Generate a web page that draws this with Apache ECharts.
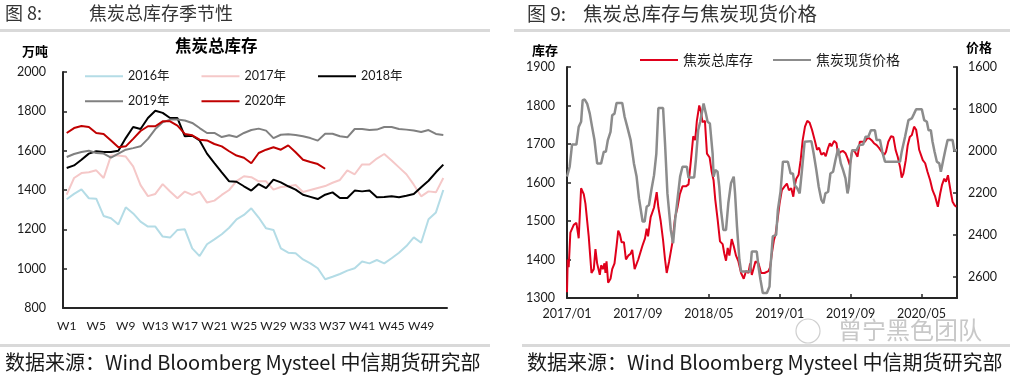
<!DOCTYPE html>
<html><head><meta charset="utf-8">
<script src="https://cdn.jsdelivr.net/npm/echarts@6/dist/echarts.min.js"></script>
<style>html,body{margin:0;padding:0;background:#fff}#c{width:1018px;height:381px}</style>
</head><body><div id="c"></div>
<script>
// ---------- Left chart: seasonal coke inventory (万吨), weeks W1..W52 ----------
const weeks = Array.from({length: 52}, (_, i) => 'W' + (i + 1));
const y2016 = [1353,1380,1403,1358,1356,1268,1256,1225,1312,1281,1239,1214,1214,1163,1158,1197,1200,1103,1064,1124,1149,1175,1208,1251,1273,1307,1260,1205,1197,1103,1081,1078,1047,1027,1002,946,959,973,990,1002,1036,1027,1044,1027,1053,1081,1115,1159,1132,1251,1286,1400];
const y2017 = [1376,1461,1486,1490,1500,1461,1575,1575,1570,1520,1425,1369,1380,1430,1392,1358,1392,1375,1392,1336,1346,1375,1400,1445,1470,1465,1444,1444,1402,1415,1419,1425,1390,1400,1410,1420,1437,1451,1500,1480,1530,1530,1560,1583,1550,1515,1480,1427,1368,1393,1388,1461];
const y2018 = [1512,1525,1554,1585,1597,1593,1593,1600,1664,1720,1710,1766,1803,1792,1766,1766,1673,1676,1652,1585,1537,1490,1444,1442,1419,1397,1430,1410,1453,1439,1419,1402,1376,1365,1354,1376,1388,1359,1359,1397,1393,1397,1363,1364,1368,1363,1371,1380,1414,1447,1490,1529];
const y2019 = [1568,1583,1593,1600,1588,1585,1565,1585,1605,1613,1622,1660,1710,1744,1758,1758,1753,1741,1715,1690,1690,1669,1678,1669,1690,1705,1712,1702,1664,1681,1683,1680,1673,1664,1651,1686,1686,1673,1668,1710,1710,1705,1707,1720,1720,1710,1707,1702,1695,1705,1685,1680];
const y2020 = [1690,1715,1725,1720,1690,1685,1652,1617,1622,1660,1700,1724,1724,1749,1749,1727,1685,1678,1656,1652,1634,1622,1597,1575,1564,1536,1588,1605,1617,1605,1627,1592,1554,1542,1532,1508];
const leftTicks = [800, 1000, 1200, 1400, 1600, 1800, 2000];

// ---------- Right chart: inventory vs coke spot price ----------
// time given as months elapsed since 2017/01
const invMonth = [0.00,0.08,0.19,0.38,0.76,1.06,1.32,1.59,1.89,2.08,2.45,2.76,3.02,3.21,3.40,3.70,3.85,4.04,4.23,4.34,4.46,4.64,4.91,5.10,5.36,5.59,5.78,5.97,6.16,6.42,6.65,6.91,7.18,7.36,7.63,7.85,8.04,8.23,8.50,8.80,8.99,9.14,9.44,9.63,9.82,10.12,10.31,10.57,10.84,11.06,11.25,11.52,11.71,11.90,12.20,12.46,12.73,13.03,13.41,13.71,13.97,14.24,14.46,14.65,14.92,15.11,15.29,15.56,15.79,16.09,16.31,16.54,16.73,16.99,17.26,17.56,17.75,17.94,18.13,18.32,18.58,18.81,19.07,19.34,19.64,19.94,20.20,20.47,20.66,20.85,21.07,21.26,21.60,21.90,22.28,22.47,22.73,22.92,23.11,23.34,23.53,23.79,23.98,24.24,24.55,24.81,25.04,25.30,25.53,25.68,25.87,26.13,26.36,26.59,26.85,27.11,27.38,27.64,27.95,28.21,28.44,28.70,28.97,29.19,29.46,29.65,29.83,30.14,30.40,30.59,30.89,31.15,31.42,31.65,31.91,32.18,32.48,32.78,33.04,33.35,33.61,33.87,34.10,34.36,34.63,34.93,35.20,35.50,35.80,35.99,36.25,36.56,36.82,37.08,37.31,37.57,37.76,37.95,38.22,38.44,38.67,38.90,39.16,39.39,39.58,39.73,39.92,40.14,40.41,40.67,40.97,41.24,41.54,41.84,41.92,42.11,42.30,42.56,42.75,42.98,43.13,43.32,43.50,43.73,43.92];
const invValue = [1315,1400,1380,1470,1490,1495,1455,1585,1570,1545,1460,1365,1375,1427,1390,1360,1385,1375,1390,1365,1395,1340,1350,1375,1390,1435,1475,1465,1445,1445,1400,1410,1415,1425,1375,1370,1400,1395,1435,1455,1480,1460,1510,1510,1535,1575,1535,1500,1450,1400,1365,1395,1390,1445,1510,1535,1570,1590,1590,1595,1655,1720,1710,1760,1800,1785,1757,1760,1675,1665,1630,1605,1555,1505,1447,1440,1415,1397,1430,1410,1453,1435,1410,1395,1365,1350,1370,1365,1390,1360,1355,1395,1390,1365,1365,1360,1370,1380,1415,1450,1465,1510,1545,1580,1590,1597,1580,1585,1563,1590,1610,1620,1658,1710,1745,1760,1755,1737,1710,1685,1690,1672,1677,1668,1690,1702,1694,1708,1702,1672,1680,1682,1676,1663,1645,1684,1680,1667,1706,1706,1706,1715,1715,1710,1702,1697,1690,1680,1672,1680,1706,1720,1718,1684,1667,1641,1613,1623,1658,1697,1718,1723,1745,1737,1710,1685,1685,1658,1650,1628,1606,1580,1563,1537,1533,1572,1593,1610,1602,1619,1598,1572,1550,1541,1537];
const priceMonth = [0.00,0.30,0.57,1.06,1.32,1.59,1.77,2.00,2.27,2.57,2.83,3.10,3.40,3.85,4.15,4.38,4.61,4.91,5.10,5.36,5.59,6.23,6.50,6.80,7.18,7.55,7.85,8.12,8.31,8.53,8.76,8.99,9.25,9.52,9.82,10.08,10.31,10.84,11.06,11.33,11.71,11.97,12.20,12.46,12.76,13.03,13.52,13.71,14.35,14.54,14.80,15.03,15.41,15.67,15.86,16.12,16.43,16.54,16.73,16.99,17.18,17.37,17.64,17.94,18.20,18.50,18.81,18.96,19.18,19.45,19.64,20.66,20.85,21.41,21.60,21.83,22.09,22.55,22.85,22.96,23.22,23.60,23.79,24.09,24.36,24.92,25.23,25.49,25.68,25.98,26.25,26.51,26.81,27.57,27.83,28.13,28.40,28.70,28.93,29.15,29.46,29.72,30.02,30.29,30.59,30.89,31.15,31.42,31.65,31.80,31.99,32.18,32.67,32.97,33.42,33.69,33.99,34.29,34.74,34.93,35.31,35.57,35.88,37.57,37.76,38.14,38.52,38.90,39.16,39.39,40.03,40.30,40.60,40.79,41.05,41.24,41.47,41.73,42.00,42.18,42.41,42.68,42.94,43.50,43.69,44.00];
const priceValue = [2122,2075,1969,1969,1885,1861,1758,1755,1774,1822,1885,1948,2059,2059,2004,2004,1948,1909,1830,1822,1771,1771,1837,1885,1948,2059,2122,2225,2233,2336,2336,2265,2257,2186,2115,2012,1795,1795,1964,2202,2376,2439,2329,2233,2122,2075,2075,2126,2126,2043,1901,1861,1774,1822,1861,1869,2012,2122,2091,2099,2170,2281,2376,2376,2249,2154,2122,2202,2360,2518,2574,2574,2479,2479,2550,2613,2676,2676,2645,2550,2407,2399,2281,2194,2051,2051,2107,2107,2162,2178,2202,2091,1956,1953,2012,2091,2170,2233,2249,2202,2194,2107,2099,2043,1988,2059,2091,2130,2202,2170,2051,1996,1996,1972,1969,1932,1932,1901,1901,1948,1948,2004,2051,2051,2004,1932,1853,1845,1822,1801,1801,1853,1861,1901,1901,1956,2004,2051,2059,2099,2051,1996,1948,1948,1996,1996];

const zip = (a, b) => a.map((v, i) => [v, b[i]]);
const CJK = '"Noto Sans CJK SC", sans-serif';
const LAT = 'Lato, "Noto Sans CJK SC", sans-serif';
const axisCol = '#262626';
const labCol = '#1a1a1a';
const plain = v => String(v);

const chart = echarts.init(document.getElementById('c'), null, {renderer: 'canvas'});
const lineSeries = (name, data, color, w) => ({
  name, type: 'line', data, xAxisIndex: 0, yAxisIndex: 0, symbol: 'none',
  lineStyle: {color, width: w || 2}, itemStyle: {color}, emphasis: {disabled: true}
});
const monthLabel = v => {
  const y = 2017 + Math.floor(v / 12);
  const m = (v % 12) + 1;
  return y + '/' + (m < 10 ? '0' + m : m);
};

chart.setOption({
  animation: false,
  textStyle: {fontFamily: LAT},
  grid: [
    {left: 63, top: 72, width: 384, height: 236},
    {left: 567, top: 67, width: 390, height: 231}
  ],
  legend: [
    {data: ['2016年', '2017年', '2018年'], left: 80, top: 65, icon: 'rect', itemWidth: 38, itemHeight: 2, itemGap: 32,
     textStyle: {fontSize: 12.5, color: labCol, fontFamily: LAT}, selectedMode: false},
    {data: ['2019年', '2020年'], left: 80, top: 90, icon: 'rect', itemWidth: 38, itemHeight: 2, itemGap: 32,
     textStyle: {fontSize: 12.5, color: labCol, fontFamily: LAT}, selectedMode: false},
    {data: ['焦炭总库存', '焦炭现货价格'], left: 635, top: 48, icon: 'rect', itemWidth: 38, itemHeight: 2, itemGap: 20,
     textStyle: {fontSize: 14, color: labCol, fontFamily: CJK}, selectedMode: false}
  ],
  xAxis: [
    {type: 'category', gridIndex: 0, data: weeks, boundaryGap: true,
     axisLine: {lineStyle: {color: axisCol, width: 2}},
     axisTick: {inside: true, length: 4, interval: 0, lineStyle: {color: axisCol, width: 1.5}},
     axisLabel: {interval: 3, color: labCol, fontSize: 12, margin: 12}, splitLine: {show: false}},
    {type: 'value', gridIndex: 1, min: 0, max: 44, interval: 8,
     axisLine: {lineStyle: {color: axisCol, width: 2}},
     axisTick: {inside: true, length: 4, lineStyle: {color: axisCol, width: 1.5}},
     axisLabel: {formatter: monthLabel, showMaxLabel: false, color: labCol, fontSize: 12.5, margin: 10},
     splitLine: {show: false}}
  ],
  yAxis: [
    {type: 'value', gridIndex: 0, min: leftTicks[0], max: leftTicks[leftTicks.length - 1], interval: 200,
     axisLine: {show: true, lineStyle: {color: axisCol, width: 2}},
     axisTick: {show: true, inside: true, length: 4, lineStyle: {color: axisCol, width: 1.5}},
     axisLabel: {formatter: plain, color: labCol, fontSize: 12.5, margin: 17}, splitLine: {show: false}},
    {type: 'value', gridIndex: 1, min: 1300, max: 1900, interval: 100,
     axisLine: {show: true, lineStyle: {color: axisCol, width: 2}},
     axisTick: {show: true, inside: true, length: 4, lineStyle: {color: axisCol, width: 1.5}},
     axisLabel: {formatter: plain, color: labCol, fontSize: 12.5, margin: 12}, splitLine: {show: false}},
    {type: 'value', gridIndex: 1, min: 1600, max: 2700, interval: 200, inverse: true, position: 'right',
     axisLine: {show: true, lineStyle: {color: axisCol, width: 2}},
     axisTick: {show: true, inside: true, length: 4, lineStyle: {color: axisCol, width: 1.5}},
     axisLabel: {formatter: plain, color: labCol, fontSize: 12.5, margin: 11, showMaxLabel: false}, splitLine: {show: false}}
  ],
  series: [
    lineSeries('2016年', y2016, '#b4dce6'),
    lineSeries('2017年', y2017, '#f5c8c8'),
    lineSeries('2018年', y2018, '#000000'),
    lineSeries('2019年', y2019, '#808080'),
    lineSeries('2020年', y2020, '#c00000'),
    {name: '焦炭总库存', type: 'line', xAxisIndex: 1, yAxisIndex: 1, data: zip(invMonth, invValue), symbol: 'none',
     lineStyle: {color: '#e0001b', width: 2}, itemStyle: {color: '#e0001b'}, emphasis: {disabled: true}},
    {name: '焦炭现货价格', type: 'line', xAxisIndex: 1, yAxisIndex: 2, data: zip(priceMonth, priceValue), symbol: 'none',
     lineStyle: {color: '#8c8c8c', width: 2.5}, itemStyle: {color: '#8c8c8c'}, emphasis: {disabled: true}}
  ],
  graphic: [
    // headers
    {type: 'text', left: 5, top: 4, style: {text: '图 8:', fontSize: 18, fill: '#333', fontFamily: CJK}},
    {type: 'text', left: 89, top: 4, style: {text: '焦炭总库存季节性', fontSize: 18, fill: '#333', fontFamily: CJK}},
    {type: 'rect', shape: {x: 0, y: 29, width: 490, height: 3}, style: {fill: '#d9d9d9'}},
    {type: 'text', left: 527, top: 4, style: {text: '图 9:', fontSize: 19, fill: '#333', fontFamily: CJK}},
    {type: 'text', left: 583, top: 4, style: {text: '焦炭总库存与焦炭现货价格', fontSize: 19.5, fill: '#333', fontFamily: CJK}},
    {type: 'rect', shape: {x: 514, y: 29, width: 496, height: 3}, style: {fill: '#d9d9d9'}},
    // axis titles & chart title
    {type: 'text', left: 22, top: 45, style: {text: '万吨', fontSize: 13, fontWeight: 'bold', fill: '#000', fontFamily: CJK}},
    {type: 'text', left: 175, top: 37, style: {text: '焦炭总库存', fontSize: 16.5, fontWeight: 'bold', fill: '#000', fontFamily: CJK}},
    {type: 'text', left: 532, top: 44, style: {text: '库存', fontSize: 13, fontWeight: 'bold', fill: '#000', fontFamily: CJK}},
    {type: 'text', left: 966, top: 41, style: {text: '价格', fontSize: 13, fontWeight: 'bold', fill: '#000', fontFamily: CJK}},
    // watermark
    {type: 'circle', shape: {cx: 808, cy: 331, r: 12}, style: {fill: 'none', stroke: '#cfcfcf', lineWidth: 1.2}},
    {type: 'text', left: 838, top: 318, style: {text: '曾宁黑色团队', fontSize: 24, fill: '#c8c8c8', fontFamily: CJK}},
    // footers
    {type: 'rect', shape: {x: 0, y: 344, width: 490, height: 3}, style: {fill: '#d9d9d9'}},
    {type: 'rect', shape: {x: 522, y: 344, width: 488, height: 3}, style: {fill: '#d9d9d9'}},
    {type: 'text', left: 5, top: 352, style: {text: '数据来源：Wind Bloomberg Mysteel 中信期货研究部', fontSize: 20, fill: '#1a1a1a', fontFamily: CJK}},
    {type: 'text', left: 527, top: 352, style: {text: '数据来源：Wind Bloomberg Mysteel 中信期货研究部', fontSize: 20, fill: '#1a1a1a', fontFamily: CJK}}
  ]
});
</script></body></html>
